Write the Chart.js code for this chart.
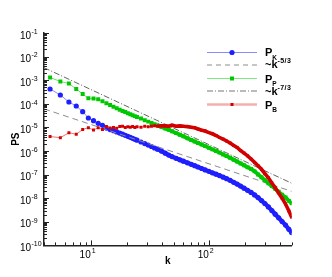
<!DOCTYPE html>
<html><head><meta charset="utf-8">
<script src="https://cdn.jsdelivr.net/npm/chart.js@4/dist/chart.umd.min.js"></script>
<style>
html,body{margin:0;padding:0;background:#fff;}
#wrap{position:relative;width:332px;height:277px;overflow:hidden;}
#c{position:absolute;left:0;top:0;}
#leg{position:absolute;left:0;top:0;pointer-events:none;}
#leg text{font-family:'Liberation Sans',Arial,Helvetica,sans-serif;font-weight:bold;fill:#000;}
</style></head><body>
<div id="wrap">
<canvas id="c" width="332" height="277"></canvas>
<svg id="leg" width="332" height="277" xmlns="http://www.w3.org/2000/svg">
  <line x1="207" y1="52.5" x2="257" y2="52.5" stroke="#8a8aff" stroke-width="1.2"/>
  <circle cx="232" cy="52.5" r="2.6" fill="#1e1eff"/>
  <text x="265" y="56.3" font-size="11">P<tspan font-size="6.5" dy="3.3">K</tspan></text>

  <line x1="207" y1="65" x2="257" y2="65" stroke="#8c8c8c" stroke-width="1" stroke-dasharray="5 4"/>
  <text x="265" y="67.5" font-size="11">~k<tspan font-size="7" dy="-4.8" letter-spacing="0.4">-5/3</tspan></text>

  <line x1="207" y1="78.5" x2="257" y2="78.5" stroke="#7fe87f" stroke-width="1.2"/>
  <rect x="230" y="76.5" width="4" height="4" fill="#00c800"/>
  <text x="265" y="82.5" font-size="11">P<tspan font-size="6.5" dy="3.2">P</tspan></text>

  <line x1="207" y1="91" x2="257" y2="91" stroke="#777" stroke-width="1" stroke-dasharray="6 2 1 2"/>
  <text x="265" y="94.5" font-size="11">~k<tspan font-size="7" dy="-4.8" letter-spacing="0.4">-7/3</tspan></text>

  <line x1="207" y1="104.5" x2="257" y2="104.5" stroke="#f4b0b0" stroke-width="2.6"/>
  <rect x="230.5" y="103" width="3" height="3" fill="#d00000"/>
  <text x="265" y="109" font-size="11">P<tspan font-size="6.5" dy="3">B</tspan></text>
</svg>
</div>
<script>
// ---- data ----
const K = [4.5,5.5,6.5,7.5,8.5,9.5,10.5,11.5,12.5,13.5,14.5,15.5,16.5,17.5,18.5,19.5,20.5,21.5,22.5,23.5,24.5,26.5,28.5,30.5,32.5,34.5,36.5,39.5,42.5,45.5,48.5,52.5,56.5,60.5,65.5,70.5,75.5,80.5,86.5,92.5,99.5,106.5,114.5,122.5,131.5,140.5,150.5,161.5,172.5,184.5,197.5,211.5,226.5,242.5,259.5,277.5,296.5,317.5,339.5,362.5,387.5,414.5,443.5,473.5,499.5];

const PK = [4.24e-4,2.36e-4,1.19e-4,8.07e-5,4.63e-5,2.50e-5,1.92e-5,1.49e-5,1.23e-5,9.4e-6,8.1e-6,7.3e-6,6.44e-6,5.73e-6,5.15e-6,4.63e-6,4.19e-6,3.81e-6,3.45e-6,3.13e-6,2.87e-6,2.41e-6,2.06e-6,1.78e-6,1.55e-6,1.34e-6,1.19e-6,9.9e-7,8.07e-7,6.7e-7,5.79e-7,4.91e-7,4.24e-7,3.70e-7,3.16e-7,2.73e-7,2.38e-7,2.10e-7,1.81e-7,1.58e-7,1.37e-7,1.19e-7,1.04e-7,9.07e-8,7.76e-8,6.70e-8,5.73e-8,4.72e-8,3.95e-8,3.26e-8,2.65e-8,2.16e-8,1.76e-8,1.38e-8,1.06e-8,7.9e-9,5.96e-9,4.28e-9,3.01e-9,2.10e-9,1.48e-9,1.03e-9,7.3e-10,4.8e-10,3.5e-10];

const PP = [1.30e-3,8.81e-4,7.25e-4,4.24e-4,2.60e-4,1.71e-4,1.68e-4,1.55e-4,1.28e-4,1.05e-4,8.89e-5,7.54e-5,6.44e-5,5.62e-5,5.0e-5,4.45e-5,4.0e-5,3.59e-5,3.29e-5,3.01e-5,2.76e-5,2.36e-5,2.02e-5,1.76e-5,1.54e-5,1.37e-5,1.23e-5,1.04e-5,8.98e-6,7.91e-6,6.90e-6,5.73e-6,4.91e-6,4.20e-6,3.49e-6,2.95e-6,2.55e-6,2.20e-6,1.87e-6,1.61e-6,1.37e-6,1.17e-6,1.0e-6,8.55e-7,7.18e-7,6.08e-7,5.15e-7,4.28e-7,3.59e-7,2.98e-7,2.48e-7,2.06e-7,1.73e-7,1.37e-7,1.02e-7,7.69e-8,5.79e-8,4.33e-8,3.26e-8,2.48e-8,1.87e-8,1.39e-8,1.07e-8,7.69e-9,6.08e-9];

const PB = [4.11e-6,3.66e-6,5.96e-6,5.10e-6,8.15e-6,9.71e-6,7.76e-6,9.71e-6,8.15e-6,1.09e-5,9.44e-6,9.91e-6,9.16e-6,1.09e-5,1.12e-5,9.91e-6,1.06e-5,1.01e-5,1.09e-5,9.91e-6,1.06e-5,1.01e-5,1.11e-5,1.06e-5,1.12e-5,1.18e-5,1.12e-5,1.18e-5,1.16e-5,1.12e-5,1.24e-5,1.12e-5,1.16e-5,1.11e-5,1.08e-5,1.01e-5,9.62e-6,8.55e-6,7.60e-6,7.0e-6,6.0e-6,5.36e-6,4.54e-6,3.73e-6,3.16e-6,2.65e-6,2.18e-6,1.71e-6,1.41e-6,1.05e-6,8.15e-7,6.26e-7,4.58e-7,3.29e-7,2.36e-7,1.68e-7,1.10e-7,7.31e-8,4.41e-8,2.76e-8,1.66e-8,1.0e-8,5.68e-9,2.87e-9,1.55e-9];

const K_REF = [4, 500];
const REF_53 = [6.1e-5, 1.95e-8];   // ~k^-5/3 guide line
const REF_73 = [3.4e-3, 4.3e-8];    // ~k^-7/3 guide line

const X_RANGE = [4, 500];
const Y_RANGE = [1e-10, 1e-1];
const X_EXPONENTS = [1, 2];
const Y_EXPONENTS = [-10,-9,-8,-7,-6,-5,-4,-3,-2,-1];

const FONT = "'Liberation Sans', Arial, Helvetica, sans-serif";
const DENSE_FROM = 36;   // beyond this k the markers merge into a solid band

function pts(xs, ys){ return xs.map((x,i)=>({x:x, y:ys[i]})); }
function band(color, width){
  return {
    borderColor: c => c.p0.parsed.x >= DENSE_FROM ? color : undefined,
    borderWidth: c => c.p0.parsed.x >= DENSE_FROM ? width : undefined
  };
}

const decoPlugin = {
  id: 'deco',
  afterDraw(chart){
    const ctx = chart.ctx, ca = chart.chartArea;
    const xs = chart.scales.x, ys = chart.scales.y;
    ctx.save();
    ctx.strokeStyle = '#222';
    ctx.lineWidth = 1;
    ctx.beginPath();
    const eLo = Math.round(Math.log10(Y_RANGE[0])), eHi = Math.round(Math.log10(Y_RANGE[1]));
    for (let e = eLo; e <= eHi; e++){
      for (let m = 1; m <= 9; m++){
        const v = m*Math.pow(10,e);
        if (v > Y_RANGE[1]*1.0001) continue;
        const y = Math.round(ys.getPixelForValue(v)) + 0.5;
        const len = m === 1 ? 5 : 3;
        ctx.moveTo(ca.left, y); ctx.lineTo(ca.left + len, y);
      }
    }
    const xLo = Math.floor(Math.log10(X_RANGE[0])), xHi = Math.floor(Math.log10(X_RANGE[1]));
    for (let e = xLo; e <= xHi; e++){
      for (let m = 1; m <= 9; m++){
        const v = m*Math.pow(10,e);
        if (v < X_RANGE[0]*0.999 || v > X_RANGE[1]*1.001) continue;
        const x = Math.round(xs.getPixelForValue(v)) + 0.5;
        const len = m === 1 ? 5 : 3;
        ctx.moveTo(x, ca.bottom); ctx.lineTo(x, ca.bottom - len);
      }
    }
    ctx.stroke();

    ctx.fillStyle = '#000';
    ctx.textBaseline = 'alphabetic';
    Y_EXPONENTS.forEach(e => {
      const y = ys.getPixelForValue(Math.pow(10, e));
      ctx.font = '10px ' + FONT; ctx.textAlign = 'right';
      ctx.fillText('10', ca.left - 13, y + 5.5);
      ctx.font = '7px ' + FONT; ctx.textAlign = 'left';
      ctx.fillText(String(e), ca.left - 12.5, y + 0.8);
    });
    X_EXPONENTS.forEach(e => {
      const x = xs.getPixelForValue(Math.pow(10, e));
      ctx.font = '10px ' + FONT; ctx.textAlign = 'right';
      ctx.fillText('10', x - 0.3, ca.bottom + 12.3);
      ctx.font = '7px ' + FONT; ctx.textAlign = 'left';
      ctx.fillText(String(e), x + 0.7, ca.bottom + 7.8);
    });
    ctx.restore();
  }
};

new Chart(document.getElementById('c'), {
  type: 'line',
  data: {
    datasets: [
      { label: 'P_K', data: pts(K, PK), borderColor: '#8a8aff', borderWidth: 1,
        segment: band('#2222f4', 4.2),
        pointStyle: 'circle', pointRadius: 2.6, pointBackgroundColor: '#1e1eff', pointBorderWidth: 0, order: 5 },
      { label: '~k^-5/3', data: pts(K_REF, REF_53), borderColor: '#8c8c8c', borderWidth: 1,
        borderDash: [6,4], pointRadius: 0, order: 4 },
      { label: 'P_P', data: pts(K, PP), borderColor: '#70e070', borderWidth: 1,
        segment: band('#00c800', 3.8),
        pointStyle: 'rect', pointRadius: 2.8, pointBackgroundColor: '#00c800', pointBorderWidth: 0, order: 3 },
      { label: '~k^-7/3', data: pts(K_REF, REF_73), borderColor: '#666', borderWidth: 1,
        borderDash: [6,2,1,2], pointRadius: 0, order: 2 },
      { label: 'P_B', data: pts(K, PB), borderColor: '#ee7070', borderWidth: 1,
        segment: band('#d00000', 3.6),
        pointStyle: 'rect', pointRadius: 2.1, pointBackgroundColor: '#d40000', pointBorderWidth: 0, order: 1 }
    ]
  },
  options: {
    responsive: false, animation: false, devicePixelRatio: 1,
    layout: { padding: { top: 33, right: 40.3, left: 0, bottom: 0 } },
    plugins: { legend: { display: false }, tooltip: { enabled: false } },
    elements: { line: { tension: 0 } },
    scales: {
      x: { type: 'logarithmic', min: X_RANGE[0], max: X_RANGE[1],
           grid: { display: false }, border: { display: true, color: '#222', width: 1.5 },
           ticks: { display: false },
           title: { display: true, text: 'k', color: '#000', font: { family: FONT, size: 10, weight: 'bold' }, padding: { top: 0, bottom: 10 } },
           afterFit(s){ s.height = 31.6; } },
      y: { type: 'logarithmic', min: Y_RANGE[0], max: Y_RANGE[1],
           grid: { display: false }, border: { display: true, color: '#222', width: 1.5 },
           ticks: { display: false },
           title: { display: true, text: 'PS', color: '#000', font: { family: FONT, size: 10, weight: 'bold' }, padding: { top: 10, bottom: 0 } },
           afterFit(s){ s.width = 44; } }
    }
  },
  plugins: [decoPlugin]
});
</script>
</body></html>
